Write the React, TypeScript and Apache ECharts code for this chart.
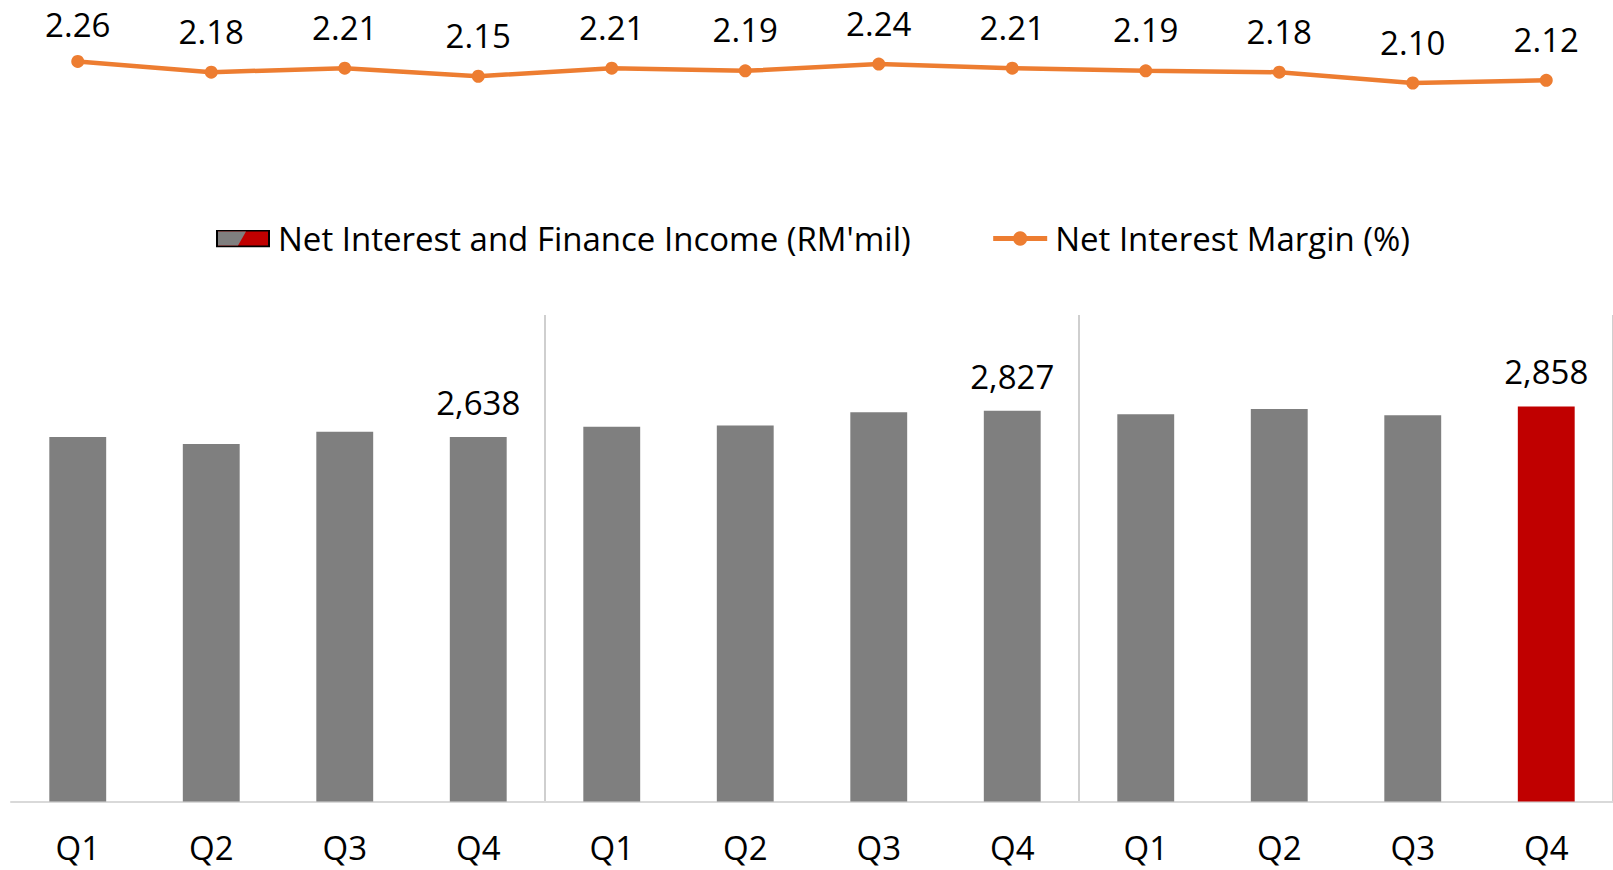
import React, { useEffect, useRef } from "react";
import * as echarts from "echarts";

const categories = ["Q1", "Q2", "Q3", "Q4", "Q1", "Q2", "Q3", "Q4", "Q1", "Q2", "Q3", "Q4"];
const incomeValues = [2638, 2586, 2675, 2638, 2712, 2720, 2817, 2827, 2802, 2839, 2794, 2858];
const marginValues = [2.26, 2.18, 2.21, 2.15, 2.21, 2.19, 2.24, 2.21, 2.19, 2.18, 2.10, 2.12];
const labelledBars = [3, 7, 11];
const highlightBar = 11;
const barName = "Net Interest and Finance Income (RM'mil)";
const lineName = "Net Interest Margin (%)";

const FONT = "'Open Sans', sans-serif";
const FS = 33;
const GRAY = "#7F7F7F";
const RED = "#C00000";
const ORANGE = "#ED7D31";

const iconSvg =
  "<svg xmlns='http://www.w3.org/2000/svg' width='54' height='18' viewBox='0 0 54 18'>" +
  "<rect x='1' y='1' width='52' height='16' fill='" + RED + "' stroke='#000' stroke-width='2'/>" +
  "<polygon points='2,2 30,2 22,16 2,16' fill='" + GRAY + "'/></svg>";
const barIcon = "image://data:image/svg+xml;charset=utf-8," + encodeURIComponent(iconSvg);

export default function App() {
  const ref = useRef<HTMLDivElement>(null);
  useEffect(() => {
    document.body.style.margin = "0";
    if (!ref.current) return;
    const chart = echarts.init(ref.current, undefined, { renderer: "svg" });
    const barData = incomeValues.map((v, i) => ({
      value: v,
      itemStyle: { color: i === highlightBar ? RED : GRAY },
      label: { show: labelledBars.includes(i) },
    }));
    const lineData = marginValues.map((v, i) => (i === 0 ? { value: v, label: { distance: 14 } } : v));
    chart.setOption({
      animation: false,
      textStyle: { fontFamily: FONT },
      legend: {
        top: 217,
        left: 211,
        itemGap: 80,
        itemWidth: 54,
        itemHeight: 18,
        textStyle: { fontFamily: FONT, fontSize: FS, color: "#000", padding: [0, 0, 0, 3] },
        data: [
          { name: barName, icon: barIcon },
          { name: lineName, lineStyle: { width: 5 } },
        ],
      },
      grid: [
        { left: 11, right: -3, top: 29, height: 135 },
        { left: 11, right: -3, top: 315, bottom: 68.6 },
      ],
      xAxis: [
        {
          type: "category",
          gridIndex: 0,
          data: categories,
          show: false,
        },
        {
          type: "category",
          gridIndex: 1,
          data: categories,
          axisLine: { show: true, lineStyle: { color: "#D9D9D9", width: 2 } },
          axisTick: { show: false },
          axisLabel: { color: "#000", fontSize: FS, lineHeight: FS, fontFamily: FONT, margin: 30, interval: 0 },
          splitLine: {
            show: true,
            interval: (i: number) => i === 4 || i === 8,
            lineStyle: { color: "#BFBFBF", width: 1.5 },
          },
        },
      ],
      yAxis: [
        { type: "value", gridIndex: 0, min: 1.5, max: 2.5, show: false, splitLine: { show: false } },
        { type: "value", gridIndex: 1, min: 0, max: 3520, show: false, splitLine: { show: false } },
      ],
      series: [
        {
          name: barName,
          type: "bar",
          xAxisIndex: 1,
          yAxisIndex: 1,
          barWidth: "42.6%",
          itemStyle: { color: GRAY },
          label: {
            position: "top",
            distance: 18,
            color: "#000",
            fontSize: FS,
            fontFamily: FONT,
            formatter: (p: any) => Number(p.value).toLocaleString("en-US"),
          },
          data: barData,
        },
        {
          name: lineName,
          type: "line",
          xAxisIndex: 0,
          yAxisIndex: 0,
          data: lineData,
          symbol: "circle",
          symbolSize: 13,
          lineStyle: { color: ORANGE, width: 4.5 },
          itemStyle: { color: ORANGE },
          label: {
            show: true,
            position: "top",
            distance: 18,
            color: "#000",
            fontSize: FS,
            lineHeight: FS,
            fontFamily: FONT,
            formatter: (p: any) => Number(p.value).toFixed(2),
          },
        },
      ],
    });
    return () => chart.dispose();
  }, []);
  return <div ref={ref} style={{ width: 1613, height: 870 }} />;
}
